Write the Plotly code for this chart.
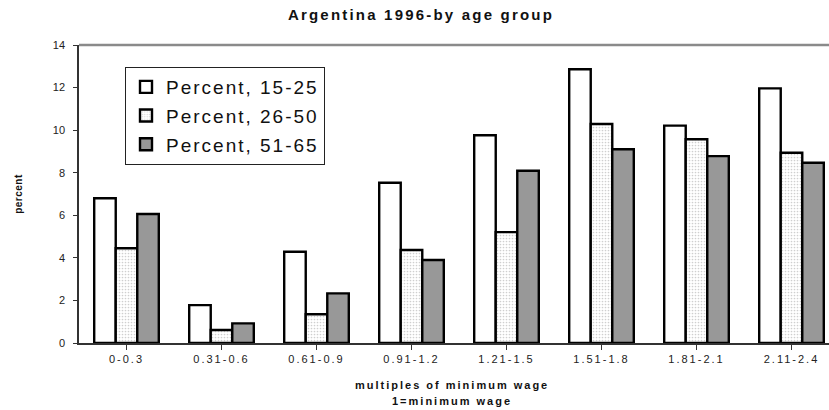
import plotly.graph_objects as go

categories = ["0-0.3", "0.31-0.6", "0.61-0.9", "0.91-1.2", "1.21-1.5", "1.51-1.8", "1.81-2.1", "2.11-2.4"]
pct_15_25 = [6.80, 1.78, 4.29, 7.53, 9.76, 12.86, 10.21, 11.96]
pct_26_50 = [4.45, 0.61, 1.35, 4.37, 5.21, 10.29, 9.57, 8.94]
pct_51_65 = [6.06, 0.92, 2.33, 3.90, 8.09, 9.10, 8.78, 8.47]
series_names = ["Percent, 15-25", "Percent, 26-50", "Percent, 51-65"]
y_ticks = [0, 2, 4, 6, 8, 10, 12, 14]

FONT = "Arial, Liberation Sans, sans-serif"


def sp(text, px):
    return f'<span style="letter-spacing:{px}px">{text}</span>'


fig = go.Figure()
fills = [
    dict(color="white"),
    dict(color="white", pattern=dict(shape=".", fgcolor="#a0a0a0", bgcolor="#ffffff", size=3, solidity=0.25)),
    dict(color="#989898"),
]
for i, (vals, name) in enumerate(zip([pct_15_25, pct_26_50, pct_51_65], series_names)):
    m = dict(fills[i])
    m["line"] = dict(color="black", width=2.4)
    fig.add_trace(go.Bar(
        x=list(range(len(categories))), y=vals, name=sp(name, 2),
        marker=m, legendgroup=f"g{i}",
    ))

fig.update_layout(
    width=829, height=410,
    margin=dict(l=79, r=0, t=45, b=67, autoexpand=False),
    paper_bgcolor="white", plot_bgcolor="white",
    barmode="group", bargap=0.32, bargroupgap=0,
    font=dict(family=FONT, color="#111"),
    title=dict(
        text=sp("Argentina 1996-by age group", 2.2),
        x=421 / 829, xanchor="center", xref="container",
        y=1 - 15 / 410, yanchor="middle", yref="container",
        font=dict(size=15, family=FONT, weight="bold", color="#111"),
    ),
    showlegend=True,
    legend=dict(
        x=(125 - 79) / 750, y=(343 - 67) / 298, xanchor="left", yanchor="top",
        xref="paper", yref="paper",
        bgcolor="white", bordercolor="#222", borderwidth=1,
        font=dict(size=19, family=FONT, color="#111"),
        traceorder="grouped", tracegroupgap=1,
        itemwidth=30,
    ),
    xaxis=dict(
        range=[-0.5, 7.5 - 10 / 95],
        tickmode="array", tickvals=list(range(len(categories))),
        ticktext=[sp(c, 2) for c in categories],
        tickson="boundaries", ticks="outside", ticklen=5, tickcolor="#333", tickwidth=1,
        showline=True, linecolor="#333", linewidth=1.5,
        showgrid=False, zeroline=False, automargin=False,
        tickfont=dict(size=11, family=FONT, color="#222"),
    ),
    yaxis=dict(
        range=[0, 14], tickmode="array", tickvals=y_ticks,
        ticks="outside", ticklen=4, tickcolor="#333", tickwidth=1,
        ticklabelstandoff=6,
        showline=True, linecolor="#333", linewidth=1.5,
        showgrid=False, zeroline=False, automargin=False,
        tickfont=dict(size=11, family=FONT, color="#222"),
        title=dict(
            text=sp("percent", 0.5),
            font=dict(size=10, family=FONT, weight="bold", color="#111"),
            standoff=28,
        ),
    ),
    shapes=[dict(type="line", xref="paper", yref="paper", x0=0, x1=1, y0=1, y1=1,
                 line=dict(color="#8a8a8a", width=2.5))],
    annotations=[
        dict(text=sp("multiples of minimum wage", 2), xref="paper", yref="paper",
             x=(452 - 79) / 750, y=(343 - 385) / 298, xanchor="center", yanchor="middle",
             showarrow=False, font=dict(size=11, family=FONT, weight="bold", color="#111")),
        dict(text=sp("1=minimum wage", 2), xref="paper", yref="paper",
             x=(452 - 79) / 750, y=(343 - 401) / 298, xanchor="center", yanchor="middle",
             showarrow=False, font=dict(size=11, family=FONT, weight="bold", color="#111")),
    ],
)

fig.write_html("out.html", config={"displayModeBar": False},
               post_script="document.body.style.margin='0px';")
